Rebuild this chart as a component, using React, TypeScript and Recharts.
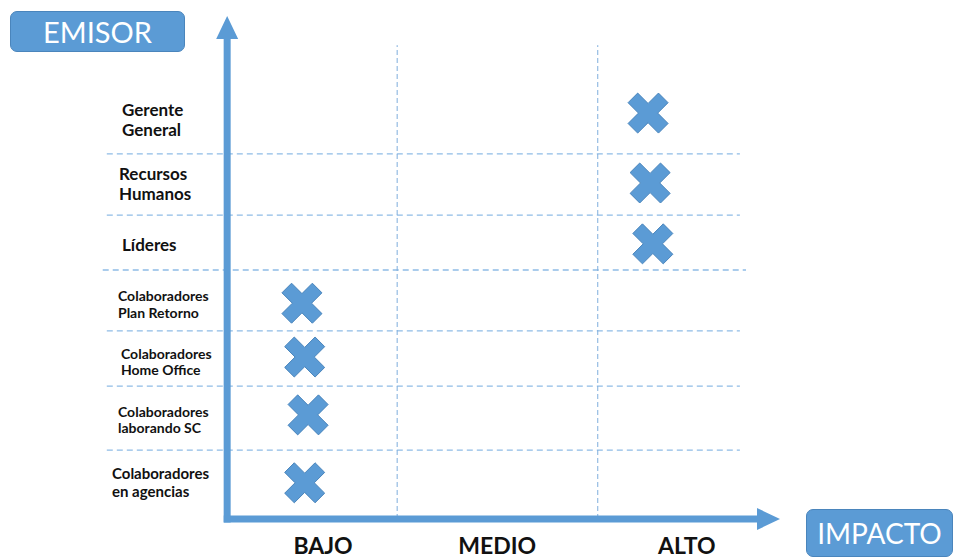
import React from 'react';
import { ScatterChart, Scatter, XAxis, YAxis, ReferenceLine } from 'recharts';

// emisores (rows, top to bottom) and where their labels sit on the vertical scale
const emisores = [
    'Gerente\nGeneral',
    'Recursos\nHumanos',
    'Líderes',
    'Colaboradores\nPlan Retorno',
    'Colaboradores\nHome Office',
    'Colaboradores\nlaborando SC',
    'Colaboradores\nen agencias',
];
const filaCentro = [7.95, 6.68, 5.47, 4.29, 3.14, 1.99, 0.74];

// impact level per emisor and the marker position
const impacto = ['ALTO', 'ALTO', 'ALTO', 'BAJO', 'BAJO', 'BAJO', 'BAJO'];
const marcaX = [8.06, 8.09, 8.13, 2.97, 3.01, 3.06, 3.01];
const marcaY = [8.07, 6.68, 5.47, 4.29, 3.22, 2.07, 0.72];

// impact columns
const niveles = ['BAJO', 'MEDIO', 'ALTO'];
const nivelCentro = [3.28, 5.84, 8.63];
const limitesColumna = [4.37, 7.32];
const limitesFila = [7.26, 6.04, 4.95, 3.74, 2.64, 1.37];

const AZUL = '#5B9BD5';
const FUENTE = 'Lato, "Open Sans", sans-serif';
const labelSize = [17, 17, 17, 14, 14, 14, 15];
const labelX = [122, 119, 122, 118, 121, 118, 112];

const puntos = emisores.map((e, i) => ({
    emisor: e.replace('\n', ' '),
    impacto: impacto[i],
    x: marcaX[i],
    y: marcaY[i],
}));

const MarcaX = (props: any) => {
    const { cx, cy } = props;
    const t = 6.8;
    const L = 21.5;
    const base = [
        [t, -L], [t, -t], [L, -t], [L, t], [t, t], [t, L],
        [-t, L], [-t, t], [-L, t], [-L, -t], [-t, -t], [-t, -L],
    ];
    const c = Math.SQRT1_2;
    const pts = base
        .map(([x, y]) => `${cx + (x - y) * c},${cy + (x + y) * c}`)
        .join(' ');
    return <polygon points={pts} fill={AZUL} stroke="#4A85BC" strokeWidth={1} />;
};

const Flecha = (props: any) => {
    const { x1, y1, x2, y2 } = props;
    const dx = x2 - x1;
    const dy = y2 - y1;
    const len = Math.sqrt(dx * dx + dy * dy);
    const ux = dx / len;
    const uy = dy / len;
    const nx = -uy;
    const ny = ux;
    const w = 3.5;
    const hw = 11;
    const hl = 23;
    const bx = x2 - ux * hl;
    const by = y2 - uy * hl;
    const p = [
        [x1 + nx * w, y1 + ny * w],
        [bx + nx * w, by + ny * w],
        [bx + nx * hw, by + ny * hw],
        [x2, y2],
        [bx - nx * hw, by - ny * hw],
        [bx - nx * w, by - ny * w],
        [x1 - nx * w, y1 - ny * w],
    ];
    return <polygon points={p.map((q) => q.join(',')).join(' ')} fill={AZUL} />;
};

const EmisorTick = (props: any) => {
    const { y, payload } = props;
    const i = filaCentro.indexOf(payload.value);
    if (i < 0) return null;
    const lines = emisores[i].split('\n');
    const fs = labelSize[i];
    const lh = fs * 1.2;
    const y0 = y - ((lines.length - 1) * lh) / 2;
    return (
        <text x={labelX[i]} y={y0} fontFamily={FUENTE} fontWeight={700} fontSize={fs} fill="#111" dominantBaseline="central">
            {lines.map((l, k) => (
                <tspan key={k} x={labelX[i]} y={y0 + k * lh} dominantBaseline="central">{l}</tspan>
            ))}
        </text>
    );
};

const NivelTick = (props: any) => {
    const { x, payload } = props;
    const i = nivelCentro.indexOf(payload.value);
    if (i < 0) return null;
    return (
        <text x={x} y={554} textAnchor="middle" fontFamily={FUENTE} fontWeight={700} fontSize={23} fill="#111">
            {niveles[i]}
        </text>
    );
};

const caja: React.CSSProperties = {
    position: 'absolute',
    background: AZUL,
    color: '#fff',
    borderRadius: 7,
    border: '1px solid #4A85BC',
    fontFamily: FUENTE,
    display: 'flex',
    alignItems: 'center',
    justifyContent: 'center',
    boxSizing: 'border-box',
};

const App: React.FC = () => {
    return (
        <div style={{ position: 'absolute', left: 0, top: 0, width: 956, height: 559, background: '#fff' }}>
            <ScatterChart width={956} height={559} margin={{ top: 16, right: 176, left: 0, bottom: 0 }}>
                <XAxis
                    type="number"
                    dataKey="x"
                    domain={[0, 10]}
                    allowDataOverflow
                    ticks={nivelCentro}
                    interval={0}
                    axisLine={false}
                    tickLine={false}
                    height={40}
                    tick={<NivelTick />}
                />
                <YAxis
                    type="number"
                    dataKey="y"
                    domain={[0, 10]}
                    allowDataOverflow
                    ticks={filaCentro}
                    interval={0}
                    axisLine={false}
                    tickLine={false}
                    width={100}
                    tick={<EmisorTick />}
                />
                {limitesFila.map((v, i) => (
                    <ReferenceLine
                        key={'f' + i}
                        segment={[{ x: i === 2 ? 0.04 : 0.1, y: v }, { x: i === 2 ? 9.5 : 9.41, y: v }]}
                        stroke="#8FBCE6"
                        strokeWidth={1.3}
                        strokeDasharray="6 4"
                        ifOverflow="visible"
                    />
                ))}
                {limitesColumna.map((v, i) => (
                    <ReferenceLine
                        key={'c' + i}
                        segment={[{ x: v, y: 0 }, { x: v, y: 9.42 }]}
                        stroke="#7FAEDD"
                        strokeWidth={1}
                        strokeDasharray="5 3"
                        ifOverflow="visible"
                    />
                ))}
                <ReferenceLine segment={[{ x: 1.87, y: -0.07 }, { x: 1.87, y: 10 }]} ifOverflow="visible" shape={Flecha} />
                <ReferenceLine segment={[{ x: 1.82, y: 0 }, { x: 10, y: 0 }]} ifOverflow="visible" shape={Flecha} />
                <Scatter data={puntos} shape={<MarcaX />} isAnimationActive={false} />
            </ScatterChart>
            <div style={{ ...caja, left: 10, top: 11, width: 175, height: 41, fontSize: 29 }}>EMISOR</div>
            <div style={{ ...caja, left: 806, top: 509, width: 147, height: 48, fontSize: 28 }}>IMPACTO</div>
        </div>
    );
};

export default App;
